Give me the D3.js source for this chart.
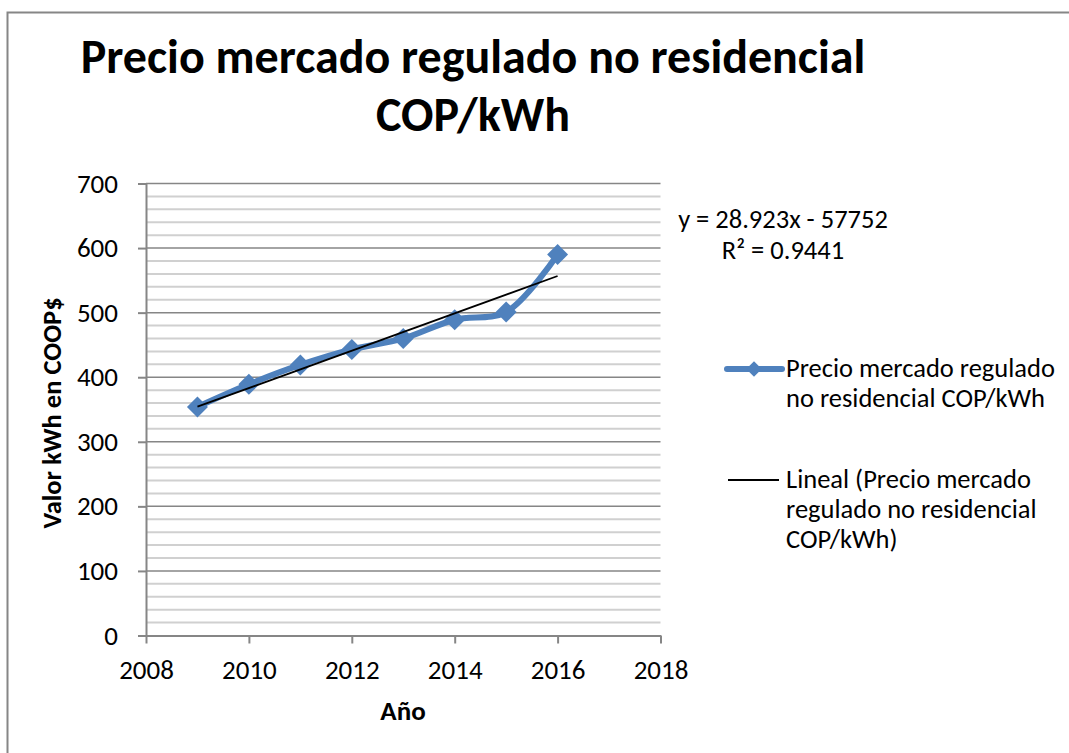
<!DOCTYPE html>
<html>
<head>
<meta charset="utf-8">
<script src="https://cdn.jsdelivr.net/npm/d3@7"></script>
<style>
  body { margin: 0; background: #fff; }
  text { font-family: Carlito, Calibri, "Open Sans", sans-serif; fill: #000; }
</style>
</head>
<body>
<svg id="chart"></svg>
<script>
const years = [2009, 2010, 2011, 2012, 2013, 2014, 2015, 2016];
const precio = [354, 389, 419, 443, 460, 489, 501, 590];
const trend_coef = [28.923, -57752]; // slope, intercept
const x_ticks = [2008, 2010, 2012, 2014, 2016, 2018];
const y_ticks = [0, 100, 200, 300, 400, 500, 600, 700];
const title_lines = ["Precio mercado regulado no residencial", "COP/kWh"];
const eq_lines = ["y = 28.923x - 57752", "R\u00b2 = 0.9441"];
const legend_series = ["Precio mercado regulado", "no residencial COP/kWh"];
const legend_trend = ["Lineal (Precio mercado", "regulado no residencial", "COP/kWh)"];

const width = 1069, height = 753;
const BLUE = "#4F81BD";
const svg = d3.select("#chart").attr("width", width).attr("height", height);

// outer chart frame
svg.append("rect")
  .attr("x", 7.5).attr("y", 12.5)
  .attr("width", 1080).attr("height", 800)
  .attr("fill", "#fff")
  .attr("stroke", "#868686").attr("stroke-width", 2);

let X = d3.scaleLinear().domain([2008, 2018]).range([146, 660.5]);
let Y = d3.scaleLinear().domain([0, 700]).range([635.5, 183.5]);

// gridlines: minor every 20, major every 100
let grid = svg.append("g");
grid.selectAll(".minor")
  .data(d3.range(20, 700, 20).filter((v) => v % 100 != 0))
  .join("line")
  .attr("x1", X(2008)).attr("x2", X(2018))
  .attr("y1", (d) => Y(d)).attr("y2", (d) => Y(d))
  .style("stroke", "#d0d0d0").style("stroke-width", 2);
grid.selectAll(".major")
  .data(y_ticks.filter((v) => v > 0))
  .join("line")
  .attr("x1", X(2008)).attr("x2", X(2018))
  .attr("y1", (d) => Y(d)).attr("y2", (d) => Y(d))
  .style("stroke", "#868686").style("stroke-width", 1.5);

let yAxis = d3.axisLeft(Y).tickValues(y_ticks).tickSizeInner(8).tickSizeOuter(0).tickPadding(20);
let xAxis = d3.axisBottom(X).tickValues(x_ticks).tickFormat(d3.format("d"))
  .tickSizeInner(8).tickSizeOuter(0).tickPadding(16);

let axes = svg.append("g");
axes.append("g").attr("transform", `translate(${X(2008)},0)`).call(yAxis);
axes.append("g").attr("transform", `translate(0,${Y(0)})`).call(xAxis);
axes.selectAll(".domain, .tick line").attr("stroke", "#868686").attr("stroke-width", 2);
axes.selectAll(".tick text").style("font-size", "27px").attr("fill", "#000");

// series line, smoothed like the spreadsheet
let pts = years.map((yr, i) => [yr, precio[i]]);
svg.append("path")
  .datum(pts)
  .attr("d", d3.line().x((d) => X(d[0])).y((d) => Y(d[1])).curve(d3.curveCatmullRom.alpha(0.5)))
  .attr("fill", "none")
  .attr("stroke", BLUE)
  .attr("stroke-width", 6)
  .attr("stroke-linejoin", "round");

const diamond = d3.symbol(d3.symbolSquare, 220);
svg.selectAll(".pt")
  .data(pts)
  .join("path")
  .attr("d", diamond)
  .attr("transform", (d) => `translate(${X(d[0])},${Y(d[1])}) rotate(45)`)
  .attr("fill", BLUE);

// linear trend line
let trend = (yr) => trend_coef[0] * yr + trend_coef[1];
svg.append("line")
  .attr("x1", X(years[0])).attr("y1", Y(trend(years[0])))
  .attr("x2", X(years[years.length - 1])).attr("y2", Y(trend(years[years.length - 1])))
  .attr("stroke", "#000").attr("stroke-width", 1.8);

// title
svg.selectAll(".title")
  .data(title_lines)
  .join("text")
  .attr("x", 473).attr("y", (d, i) => 73 + i * 58)
  .attr("text-anchor", "middle")
  .style("font-size", "48px").style("font-weight", "bold")
  .text((d) => d);

// axis titles
svg.append("text")
  .attr("transform", "translate(61,413) rotate(-90)")
  .attr("text-anchor", "middle")
  .style("font-size", "26.5px").style("font-weight", "bold")
  .text("Valor kWh en COOP$");
svg.append("text")
  .attr("x", 403).attr("y", 720)
  .attr("text-anchor", "middle")
  .style("font-size", "27px").style("font-weight", "bold")
  .text("Año");

// trend equation
svg.selectAll(".eq")
  .data(eq_lines)
  .join("text")
  .attr("x", 783).attr("y", (d, i) => 228 + i * 31)
  .attr("text-anchor", "middle")
  .style("font-size", "26.5px")
  .text((d) => d);

// legend
let legend = svg.append("g");
legend.append("line")
  .attr("x1", 727).attr("x2", 782).attr("y1", 369).attr("y2", 369)
  .attr("stroke", BLUE).attr("stroke-width", 6).attr("stroke-linecap", "round");
legend.append("path")
  .attr("d", d3.symbol(d3.symbolSquare, 120))
  .attr("transform", "translate(754,369) rotate(45)")
  .attr("fill", BLUE);
legend.append("line")
  .attr("x1", 728).attr("x2", 779).attr("y1", 480).attr("y2", 480)
  .attr("stroke", "#000").attr("stroke-width", 1.8);
legend.selectAll(".ls")
  .data(legend_series)
  .join("text")
  .attr("x", 786).attr("y", (d, i) => 377 + i * 30)
  .style("font-size", "26.5px")
  .text((d) => d);
legend.selectAll(".lt")
  .data(legend_trend)
  .join("text")
  .attr("x", 786).attr("y", (d, i) => 488 + i * 30)
  .style("font-size", "26.5px")
  .text((d) => d);
</script>
</body>
</html>
